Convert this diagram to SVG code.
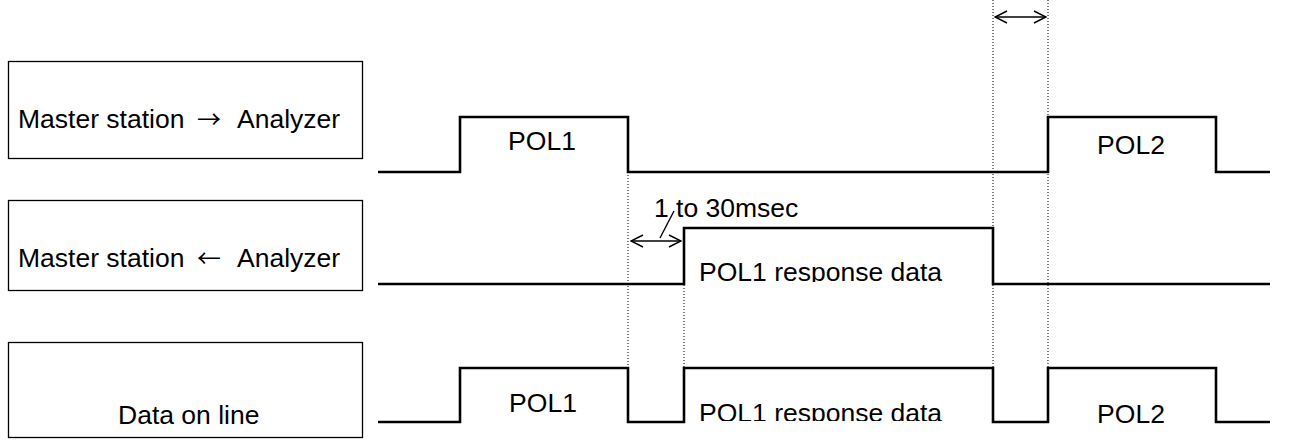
<svg xmlns="http://www.w3.org/2000/svg" width="1312" height="440" viewBox="0 0 1312 440">
<style>
.box{fill:#fff;stroke:#000;stroke-width:1.3}
.lbl{font-family:"Liberation Sans",Arial,sans-serif;font-size:26.5px;fill:#000}
.arw{font-family:"Noto Sans CJK JP","DejaVu Sans",sans-serif;font-size:24px}
.wave{fill:none;stroke:#000;stroke-width:2.6;stroke-linejoin:miter}
.dot{stroke:#000;stroke-width:1;stroke-dasharray:1 2;fill:none}
.dim{stroke:#000;stroke-width:1.4;fill:none}
</style>
<defs>
<marker id="ah" viewBox="0 0 14 14" refX="13" refY="7" markerWidth="14" markerHeight="14" markerUnits="userSpaceOnUse" orient="auto-start-reverse">
<path d="M1,1 L13,7 L1,13" fill="none" stroke="#000" stroke-width="1.4"/>
</marker>
<clipPath id="c2"><rect x="680" y="200" width="320" height="82"/></clipPath>
<clipPath id="c3"><rect x="680" y="340" width="320" height="81"/></clipPath>
</defs>
<g id="row1-label">
<rect class="box" x="8.5" y="61.5" width="354" height="97"/>
<text class="lbl" x="18" y="128">Master station<tspan class="arw" x="197">→</tspan><tspan x="237">Analyzer</tspan></text>
</g>
<g id="row2-label">
<rect class="box" x="8.5" y="200.5" width="354" height="90"/>
<text class="lbl" x="18" y="267">Master station<tspan class="arw" x="197">←</tspan><tspan x="237">Analyzer</tspan></text>
</g>
<g id="row3-label">
<rect class="box" x="8.5" y="342.5" width="354" height="95"/>
<text class="lbl" x="118" y="424">Data on line</text>
</g>
<g id="connectors">
<line class="dot" x1="628" y1="172" x2="628" y2="368"/>
<line class="dot" x1="684" y1="228" x2="684" y2="368"/>
<line class="dot" x1="993" y1="0" x2="993" y2="368"/>
<line class="dot" x1="1048" y1="0" x2="1048" y2="368"/>
<line class="dim" x1="995" y1="17" x2="1046" y2="17" marker-start="url(#ah)" marker-end="url(#ah)"/>
<line class="dim" x1="631" y1="241" x2="681" y2="241" marker-start="url(#ah)" marker-end="url(#ah)"/>
<line class="dim" x1="660" y1="238" x2="674" y2="211"/>
</g>
<g id="wave1">
<polyline class="wave" points="378,172 460,172 460,117 628,117 628,172 1048,172 1048,117 1216,117 1216,172 1270,172"/>
<text class="lbl" x="542" y="150" text-anchor="middle">POL1</text>
<text class="lbl" x="1131" y="154" text-anchor="middle">POL2</text>
</g>
<g id="wave2">
<polyline class="wave" points="378,284 684,284 684,228 993,228 993,284 1270,284"/>
<text class="lbl" x="654" y="217">1 to 30msec</text>
<text class="lbl" x="699" y="281" clip-path="url(#c2)">POL1 response data</text>
</g>
<g id="wave3">
<polyline class="wave" points="378,422 460,422 460,368 628,368 628,422 684,422 684,368 993,368 993,422 1048,422 1048,368 1216,368 1216,422 1270,422"/>
<text class="lbl" x="543" y="412" text-anchor="middle">POL1</text>
<text class="lbl" x="699" y="422" clip-path="url(#c3)">POL1 response data</text>
<text class="lbl" x="1131" y="423" text-anchor="middle">POL2</text>
</g>
</svg>
